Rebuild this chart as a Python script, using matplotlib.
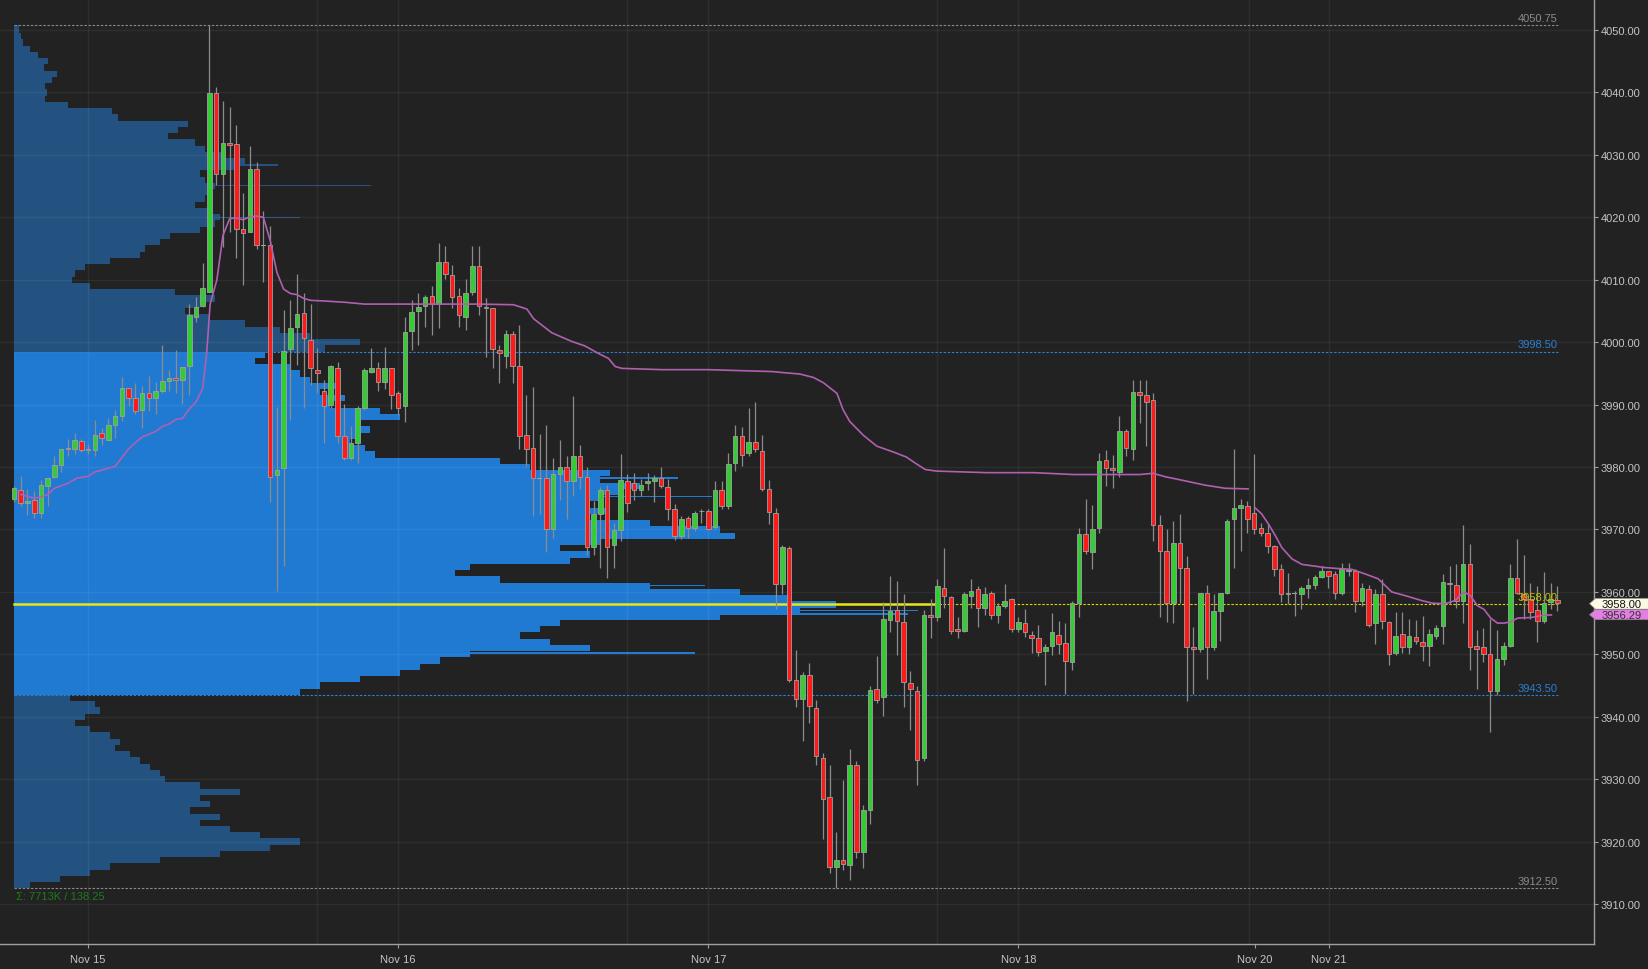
import matplotlib
matplotlib.use("Agg")
import matplotlib.pyplot as plt
from matplotlib.patches import Polygon
import numpy as np

plt.rcParams['font.family'] = ['Liberation Sans', 'DejaVu Sans']

# ---------------- data ----------------
opens = [3974.9, 3976.4, 3974.3, 3974.7, 3972.65, 3977.0, 3978.4, 3980.4, 3983.1, 3982.9,
         3984.1, 3982.95, 3982.7, 3985.4, 3984.4, 3986.75, 3988.2, 3992.6, 3991.0, 3989.2,
         3991.9, 3991.0, 3992.2, 3993.8, 3994.2, 3993.9, 3996.2, 4004.05, 4005.8, 4008.1,
         4039.9, 4027.0, 4031.9, 4031.7, 4018.1, 4017.7, 4027.8, 4015.5, 4015.5, 3978.75,
         3979.8, 3998.9, 4002.4, 4004.65, 4000.4, 3995.6, 3992.1, 3989.9, 3995.9, 3985.0,
         3981.5, 3983.9, 3989.4, 3995.2, 3995.9, 3993.7, 3995.8, 3991.8, 3989.7, 4001.8,
         4005.0, 4005.8, 4007.4, 4006.1, 4012.9, 4010.7, 4007.4, 4004.1, 4008.1, 4012.2,
         4005.6, 4005.4, 3998.75, 3997.8, 4001.3, 3996.25, 3985.2, 3983.1, 3978.2, 3978.2,
         3970.0, 3978.95, 3980.0, 3977.7, 3981.7, 3978.4, 3967.2, 3972.4, 3976.3, 3967.5,
         3969.9, 3977.7, 3977.4, 3976.25, 3977.4, 3977.7, 3978.2, 3976.85, 3973.2, 3969.0,
         3971.8, 3970.3, 3972.9, 3973.0, 3970.4, 3976.4, 3973.7, 3980.7, 3985.0, 3982.2,
         3984.0, 3982.6, 3976.5, 3972.7, 3961.2, 3967.1, 3945.9, 3942.9, 3946.7, 3941.4,
         3933.4, 3927.2, 3916.0, 3917.1, 3916.2, 3932.35, 3918.3, 3925.0, 3944.4, 3943.1,
         3955.5, 3957.1, 3955.2, 3945.45, 3944.1, 3933.4, 3956.3, 3956.0, 3960.7, 3959.15,
         3954.0, 3953.7, 3959.4, 3960.4, 3957.4, 3959.85, 3956.3, 3957.7, 3958.9, 3954.0,
         3955.0, 3953.1, 3952.65, 3950.5, 3951.3, 3953.1, 3951.8, 3948.7, 3958.2, 3969.2,
         3966.35, 3970.25, 3981.2, 3979.9, 3979.2, 3985.7, 3982.9, 3992.0, 3991.5, 3990.7,
         3970.7, 3966.6, 3958.2, 3967.9, 3963.9, 3951.1, 3950.85, 3959.8, 3951.1, 3956.9,
         3959.8, 3971.7, 3973.4, 3973.7, 3972.6, 3970.2, 3969.4, 3967.4, 3963.7, 3959.9,
         3959.8, 3959.7, 3960.7, 3961.1, 3962.4, 3963.4, 3962.9, 3959.9, 3963.4, 3963.4,
         3958.6, 3960.5, 3955.0, 3959.7, 3955.2, 3950.2, 3953.2, 3951.1, 3952.7, 3951.9,
         3951.4, 3952.9, 3954.5, 3961.4, 3961.1, 3958.6, 3964.5, 3951.4, 3951.1, 3950.05,
         3944.2, 3949.25, 3951.4, 3962.2, 3959.65, 3958.9, 3957.1, 3955.4, 3958.4, 3958.65]
highs = [3977.0, 3978.6, 3976.5, 3976.2, 3978.0, 3978.3, 3981.8, 3982.9, 3984.5, 3985.5,
         3984.5, 3983.7, 3987.5, 3986.3, 3987.9, 3989.2, 3994.4, 3992.7, 3993.4, 3993.0,
         3994.6, 3993.7, 3999.6, 3995.6, 3998.8, 3996.1, 4006.1, 4007.3, 4012.65, 4050.75,
         4040.8, 4038.7, 4037.7, 4034.75, 4023.9, 4031.4, 4028.8, 4021.0, 4018.6, 3989.65,
         4005.1, 4006.8, 4010.9, 4007.9, 4006.1, 3999.0, 3994.0, 3996.35, 3996.9, 3990.1,
         3986.6, 3989.8, 3995.8, 3999.0, 3996.9, 3999.3, 3995.8, 3992.2, 4004.1, 4006.7,
         4007.8, 4007.6, 4009.0, 4015.9, 4015.4, 4012.4, 4008.6, 4010.1, 4015.4, 4015.4,
         4007.1, 4005.4, 3999.6, 4002.0, 4001.8, 4002.8, 3991.6, 3992.8, 3985.3, 3986.7,
         3981.4, 3984.3, 3981.7, 3991.4, 3983.6, 3980.0, 3974.6, 3976.8, 3977.2, 3971.1,
         3982.1, 3978.9, 3979.1, 3978.05, 3979.1, 3978.75, 3980.0, 3978.05, 3974.0, 3972.1,
         3972.1, 3973.0, 3973.2, 3973.2, 3977.7, 3977.7, 3982.2, 3986.7, 3986.4, 3989.5,
         3990.4, 3985.1, 3977.9, 3973.5, 3967.5, 3967.3, 3950.75, 3947.1, 3948.6, 3942.7,
         3934.2, 3932.3, 3921.5, 3929.9, 3934.9, 3932.9, 3925.85, 3944.9, 3949.7, 3958.4,
         3962.6, 3961.8, 3959.6, 3947.3, 3944.9, 3957.1, 3958.8, 3962.0, 3967.0, 3959.4,
         3955.9, 3959.95, 3962.0, 3961.0, 3960.8, 3960.2, 3958.3, 3961.3, 3959.0, 3955.9,
         3957.3, 3953.7, 3954.65, 3951.7, 3956.6, 3955.35, 3955.0, 3958.6, 3970.25, 3974.85,
         3973.9, 3982.2, 3982.7, 3981.9, 3988.2, 3986.1, 3994.0, 3994.0, 3994.0, 3991.9,
         3972.3, 3970.0, 3971.4, 3972.5, 3965.7, 3954.3, 3959.9, 3961.1, 3959.7, 3959.9,
         3971.6, 3982.9, 3974.9, 3974.6, 3982.1, 3971.1, 3971.0, 3967.5, 3964.5, 3963.1,
         3960.2, 3961.0, 3962.3, 3962.7, 3964.2, 3963.4, 3963.4, 3964.6, 3964.6, 3963.6,
         3961.5, 3961.1, 3960.5, 3962.1, 3955.4, 3956.7, 3956.8, 3955.7, 3955.5, 3956.1,
         3954.05, 3954.7, 3962.9, 3964.2, 3964.5, 3970.7, 3967.7, 3953.9, 3954.2, 3955.7,
         3953.9, 3951.9, 3964.5, 3968.4, 3965.9, 3961.5, 3961.0, 3963.2, 3961.5, 3961.0]
lows = [3974.4, 3973.8, 3972.35, 3971.9, 3971.9, 3973.7, 3978.3, 3979.2, 3981.8, 3982.1,
        3982.4, 3982.1, 3981.8, 3983.6, 3984.3, 3984.7, 3987.3, 3989.8, 3988.5, 3986.3,
        3988.9, 3988.5, 3991.9, 3992.2, 3991.9, 3990.1, 3991.6, 4003.2, 4005.7, 4008.0,
        4025.1, 4015.3, 4017.7, 4013.5, 4009.1, 4017.7, 4014.9, 4009.7, 3974.4, 3960.2,
        3964.2, 3987.6, 3996.4, 3989.4, 3993.1, 3991.8, 3983.9, 3989.5, 3983.9, 3981.2,
        3981.2, 3980.6, 3989.1, 3995.0, 3992.2, 3992.5, 3989.3, 3988.4, 3987.2, 3998.75,
        3999.6, 4002.4, 4001.1, 4002.2, 4010.1, 4005.5, 4002.4, 4002.0, 4007.6, 4004.4,
        3997.6, 3995.8, 3993.5, 3995.8, 3993.5, 3982.9, 3980.1, 3972.2, 3972.5, 3966.4,
        3968.7, 3974.7, 3971.7, 3975.3, 3976.5, 3965.9, 3965.9, 3963.8, 3962.2, 3963.8,
        3968.2, 3972.8, 3974.7, 3975.3, 3976.3, 3974.4, 3976.65, 3971.45, 3968.3, 3968.5,
        3968.7, 3969.7, 3971.1, 3969.9, 3970.1, 3973.2, 3973.3, 3979.4, 3980.1, 3981.7,
        3982.4, 3976.1, 3970.9, 3957.3, 3959.6, 3945.6, 3941.55, 3936.1, 3938.95, 3932.2,
        3920.4, 3914.9, 3912.5, 3915.45, 3913.9, 3917.45, 3915.7, 3922.9, 3942.2, 3940.2,
        3953.5, 3949.95, 3941.55, 3937.9, 3929.0, 3932.9, 3952.65, 3955.35, 3957.5, 3953.2,
        3952.65, 3953.5, 3957.5, 3954.45, 3956.3, 3955.6, 3955.0, 3957.5, 3953.5, 3953.5,
        3952.8, 3950.2, 3949.7, 3945.1, 3949.95, 3950.1, 3943.6, 3947.5, 3955.9, 3966.0,
        3963.6, 3969.4, 3976.9, 3976.6, 3978.4, 3981.7, 3981.2, 3987.0, 3983.35, 3968.1,
        3955.9, 3955.2, 3955.0, 3958.2, 3942.6, 3943.7, 3950.3, 3946.05, 3950.7, 3952.2,
        3959.7, 3963.9, 3966.6, 3969.5, 3969.3, 3968.9, 3966.2, 3962.6, 3958.4, 3958.1,
        3956.1, 3957.3, 3959.1, 3960.5, 3962.3, 3960.7, 3958.9, 3959.5, 3962.6, 3956.8,
        3957.8, 3954.3, 3951.7, 3954.0, 3948.3, 3949.9, 3950.2, 3950.05, 3951.7, 3949.0,
        3948.2, 3952.45, 3951.7, 3958.1, 3957.4, 3955.0, 3947.5, 3944.45, 3948.7, 3937.6,
        3943.5, 3948.3, 3951.1, 3959.65, 3955.65, 3955.65, 3952.0, 3955.0, 3957.25, 3957.0]
closes = [3976.6, 3974.25, 3974.5, 3972.65, 3977.1, 3978.2, 3980.35, 3982.9, 3982.9, 3984.4,
          3982.7, 3982.8, 3985.1, 3984.7, 3986.7, 3988.2, 3992.6, 3991.0, 3988.9, 3991.9,
          3991.0, 3992.1, 3993.8, 3994.2, 3993.9, 3996.0, 4004.35, 4005.7, 4008.6, 4039.9,
          4027.0, 4031.9, 4031.6, 4018.2, 4017.5, 4027.8, 4015.5, 4015.5, 3978.4, 3979.6,
          3998.6, 4002.3, 4004.5, 4000.7, 3995.8, 3995.0, 3989.7, 3996.2, 3985.0, 3981.5,
          3983.9, 3989.4, 3995.5, 3995.9, 3993.7, 3995.8, 3991.5, 3989.5, 4001.7, 4004.9,
          4005.7, 4007.2, 4006.1, 4012.8, 4011.0, 4007.2, 4004.4, 4007.9, 4012.2, 4005.8,
          4005.4, 3998.9, 3998.2, 4001.3, 3996.25, 3985.0, 3982.9, 3978.2, 3978.2, 3970.0,
          3978.9, 3980.0, 3977.7, 3981.7, 3978.4, 3967.2, 3972.4, 3976.3, 3967.2, 3969.9,
          3977.9, 3974.2, 3976.3, 3977.2, 3977.8, 3978.2, 3977.0, 3973.2, 3969.0, 3971.6,
          3970.3, 3972.6, 3973.0, 3970.1, 3976.4, 3973.7, 3980.5, 3985.0, 3981.9, 3984.0,
          3982.9, 3976.5, 3972.8, 3961.2, 3967.15, 3945.9, 3942.9, 3946.7, 3941.7, 3933.7,
          3926.9, 3916.0, 3917.1, 3916.4, 3932.35, 3918.3, 3925.0, 3944.25, 3942.7, 3955.7,
          3956.9, 3955.3, 3945.6, 3944.5, 3933.15, 3956.3, 3956.0, 3961.0, 3959.4, 3953.7,
          3953.7, 3959.7, 3960.2, 3957.4, 3959.7, 3956.3, 3957.7, 3958.6, 3954.0, 3955.2,
          3953.5, 3952.65, 3950.3, 3951.2, 3953.5, 3951.7, 3949.0, 3958.2, 3969.2, 3966.5,
          3970.0, 3981.0, 3979.9, 3979.45, 3985.7, 3983.1, 3992.0, 3991.5, 3990.4, 3970.7,
          3966.6, 3958.2, 3967.9, 3963.9, 3951.1, 3950.85, 3959.8, 3951.1, 3956.9, 3959.8,
          3971.4, 3973.4, 3973.9, 3971.7, 3970.0, 3969.4, 3967.4, 3963.7, 3959.7, 3959.65,
          3959.8, 3960.7, 3961.1, 3962.4, 3963.4, 3962.6, 3959.9, 3963.6, 3963.5, 3958.6,
          3960.7, 3954.7, 3959.7, 3955.4, 3950.05, 3952.9, 3951.1, 3952.9, 3952.1, 3951.4,
          3953.25, 3954.2, 3961.6, 3961.3, 3958.6, 3964.5, 3951.1, 3950.85, 3950.05, 3944.2,
          3949.25, 3951.4, 3962.2, 3959.9, 3958.9, 3956.8, 3955.4, 3958.2, 3958.9, 3958.2]

# VWAP (two anchored segments) : bar index, value
vwap1_x = [1, 3, 4, 5, 6, 8, 9.3, 11, 12, 15, 16, 17, 18, 19, 21, 22, 23, 24, 25, 26, 27, 28,
           28.6, 29.1, 30.1, 31, 32, 33, 34, 35, 36, 37, 38, 39, 40, 41, 42, 43, 44, 46, 49, 52,
           57, 63.9, 68.9, 74.1, 76.1, 77.1, 79.8, 82.8, 84.7, 86.7, 88.2, 89.2, 90.2, 96.1,
           103.0, 109.0, 112.4, 114.4, 116.6, 118.6, 120.1, 122.1, 123.0, 124.0, 126.0, 128.0,
           130.5, 132.4, 133.9, 135.2, 136.9, 141.3, 144.3, 151.3, 157.2, 163.1, 167.1, 169.0,
           170.8, 173.7, 176.7, 179.7, 183.1]
vwap1_y = [3975.6, 3975.0, 3975.2, 3975.6, 3976.6, 3977.4, 3978.2, 3978.5, 3979.2, 3980.1,
           3981.5, 3982.9, 3983.9, 3984.8, 3985.7, 3986.5, 3986.9, 3987.6, 3987.8, 3989.3,
           3990.4, 3992.6, 3998.4, 4006.1, 4010.0, 4017.1, 4019.8, 4019.9, 4019.6, 4020.1,
           4020.2, 4020.0, 4016.3, 4011.2, 4008.5, 4007.8, 4007.6, 4007.0, 4006.7, 4006.6,
           4006.4, 4006.1, 4006.1, 4006.1, 4006.1, 4006.0, 4005.3, 4003.75, 4001.5, 4000.1,
           3999.4, 3998.2, 3997.4, 3996.1, 3995.8, 3995.6, 3995.6, 3995.4, 3995.3, 3995.1,
           3994.9, 3994.35, 3993.5, 3991.8, 3989.2, 3987.3, 3985.1, 3983.35, 3982.4, 3981.6,
           3980.5, 3979.6, 3979.35, 3979.2, 3979.1, 3979.1, 3978.8, 3978.8, 3978.8, 3979.0,
           3978.45, 3977.8, 3977.1, 3976.6, 3976.5]
vwap2_x = [184.1, 185.1, 186.1, 187.1, 188.1, 189.6, 191.1, 192.5, 194.5, 197.0, 198.5, 200.4,
           202.4, 204.4, 206.4, 208.9, 210.4, 212.3, 213.8, 215.1, 216.1, 217.1, 218.1, 219.1,
           220.1, 221.1, 222.0, 223.1, 225.1, 227.1, 228.1]
vwap2_y = [3973.5, 3972.5, 3970.9, 3969.1, 3967.1, 3965.3, 3964.4, 3964.2, 3963.9, 3963.7,
           3963.6, 3962.9, 3962.1, 3960.0, 3959.4, 3958.6, 3958.2, 3958.1, 3958.6, 3960.0,
           3959.4, 3957.8, 3957.2, 3955.8, 3955.0, 3955.0, 3955.2, 3955.8, 3955.9, 3956.3,
           3956.3]

# Volume profile (price level -> relative volume)
profile_prices = list(range(4050, 3912, -1))
profile_volume = [5, 7, 9, 16, 24, 34, 30, 43, 38, 31, 33, 31, 54, 98, 104, 174, 164, 154, 181, 191,
                  208, 231, 226, 186, 191, 201, 198, 191, 181, 196, 206, 201, 186, 156, 146, 131, 126,
                  96, 71, 61, 58, 76, 161, 201, 186, 171, 196, 231, 266, 296, 346, 311,
                  251, 241, 276, 286, 296, 326, 306, 331, 316, 366, 386, 346, 356, 346, 336, 351, 361,
                  486, 516, 596, 586, 626, 606, 586, 576, 596, 576, 636, 706, 721, 586, 546, 576, 556,
                  456, 441, 486, 636, 726, 776, 822, 786, 706, 546, 526, 506, 536, 576, 456, 426, 406,
                  386, 346, 306, 286,
                  56, 81, 86, 71, 61, 76, 96, 106, 101, 116, 126, 136, 146, 151, 186, 226, 186, 196,
                  176, 206, 186, 216, 246, 286, 256, 206, 146, 96, 76, 46, 16]
spike_prices = [4028.4, 4025.1, 4020.0, 3978.2, 3975.25, 3961.0, 3957.0, 3956.5, 3950.25]
spike_volume = [264, 357, 286, 664, 698, 691, 904, 894, 681]

va_high, va_low = 3998.5, 3943.5
poc = 3958.00
prof_high, prof_low = 4050.75, 3912.50
vwap_last = 3956.29

ytick_vals = list(range(3910, 4051, 10))
xtick_pos = [11, 57, 103, 149, 184.1, 195.1]
xtick_labels = ['Nov 15', 'Nov 16', 'Nov 17', 'Nov 18', 'Nov 20', 'Nov 21']
session_lines = [11, 45, 57, 91, 103, 137, 149, 183.2, 195.1]

# ---------------- layout ----------------
W, H = 1649, 970
BG = '#222222'
PX = 6.74          # pixels per bar
fig = plt.figure(figsize=(W / 100, H / 100), dpi=100, facecolor=BG)
ax = fig.add_axes([0, 25 / H, 1594 / W, 945 / H])
ax.set_facecolor(BG)
ax.set_xlim(-14 / PX, 1580 / PX)
ax.set_ylim(3903.6, 4054.97)

# profile
prof_scale = 1.0 / PX
cols = ['#217ad2' if va_low < p < va_high else '#235280' for p in profile_prices]
heights = [1.0] * len(profile_prices)
heights[0] = 1.25
bottoms = [p - 0.5 for p in profile_prices]
ax.barh(bottoms, [v * prof_scale for v in profile_volume], height=heights, left=0,
        align='edge', color=cols, linewidth=0, zorder=1)
scol = ['#217ad2' if va_low < p < va_high else '#235280' for p in spike_prices]
ax.barh(spike_prices, [v * prof_scale for v in spike_volume], height=0.25, left=0,
        align='center', color=scol, linewidth=0, zorder=1)

# grid
for v in ytick_vals:
    ax.axhline(v, color='white', alpha=0.06, lw=1, zorder=1.5)
for s in session_lines:
    ax.axvline(s, color='white', alpha=0.06, lw=1, zorder=1.5)

# level lines
x_end = (1558 - 14) / PX
def level(y, color, label, lw=0.8, ls=(0, (2.2, 1.5)), x0=0, labcol=None):
    ax.plot([x0, x_end], [y, y], color=color, lw=lw, ls=ls, zorder=2)
    ax.annotate(label, (x_end, y), xytext=(0, 1.5), textcoords='offset points',
                ha='right', va='bottom', fontsize=8, color=labcol or color, zorder=6)

level(prof_high, '#8a8a8a', f'{prof_high:.2f}')
level(prof_low, '#8a8a8a', f'{prof_low:.2f}')
level(va_high, '#2a7fd4', f'{va_high:.2f}')
level(va_low, '#2a7fd4', f'{va_low:.2f}')
ax.plot([0, 137], [poc, poc], color='#e6e619', lw=1.8, zorder=2.5)
level(poc, '#d8d800', f'{poc:.2f}', labcol='#c4c400')

# candles
idx = np.arange(len(opens))
o = np.array(opens); h = np.array(highs); l = np.array(lows); c = np.array(closes)
ax.vlines(idx, l, h, color='#8c8c8c', lw=0.9, zorder=3)
up = c > o
dn = c < o
eq = ~(up | dn)
body_w = 0.68
ax.bar(idx[up], (c - o)[up], bottom=o[up], width=body_w, color='#33cc33',
       edgecolor='#a0a0a0', linewidth=0.6, zorder=3.5)
ax.bar(idx[dn], (o - c)[dn], bottom=c[dn], width=body_w, color='#ff1a1a',
       edgecolor='#a0a0a0', linewidth=0.6, zorder=3.5)
ax.bar(idx[eq], 0.15, bottom=o[eq] - 0.075, width=body_w, color='#a0a0a0',
       linewidth=0, zorder=3.5)

# vwap
ax.plot(vwap1_x, vwap1_y, color='#b060b0', lw=1.2, zorder=4)
ax.plot(vwap2_x, vwap2_y, color='#b060b0', lw=1.2, zorder=4)

# axes styling
for s in ['top', 'left']:
    ax.spines[s].set_visible(False)
for s in ['right', 'bottom']:
    ax.spines[s].set_color('#a0a0a0')
    ax.spines[s].set_linewidth(1)
ax.yaxis.tick_right()
ax.set_yticks(ytick_vals)
ax.set_yticklabels([f'{v:.2f}' for v in ytick_vals])
ax.tick_params(axis='y', colors='#a0a0a0', labelcolor='#c4c4c4', labelsize=8, length=3, pad=2)
ax.set_xticks(xtick_pos)
ax.set_xticklabels(xtick_labels)
ax.tick_params(axis='x', colors='#a0a0a0', labelcolor='#c4c4c4', labelsize=8, length=3, pad=4)

# bottom-left summary text
fig.text(16 / W, 1 - 897 / H, 'Σ: 7713K / 138.25', color='#1e7a1e', fontsize=8,
         ha='left', va='center')

# right price tags
def tag(yc, top, bot, face, text, tcol):
    pts = [(1589.5, yc), (1595.5, top), (1649, top), (1649, bot), (1595.5, bot)]
    pts = [(x / W, 1 - y / H) for x, y in pts]
    fig.patches.append(Polygon(pts, closed=True, transform=fig.transFigure,
                               facecolor=face, edgecolor='#888888', lw=0.5, zorder=10))
    fig.text(1602 / W, 1 - yc / H, text, color=tcol, fontsize=8, ha='left', va='center',
             zorder=11)

tag(604.7, 599.3, 610.2, '#fbf9e4', f'{poc:.2f}', '#111111')
tag(615.7, 610.7, 620.7, '#e47ee4', f'{vwap_last:.2f}', '#333333')

fig.savefig('out.png', dpi=100, facecolor=BG)
